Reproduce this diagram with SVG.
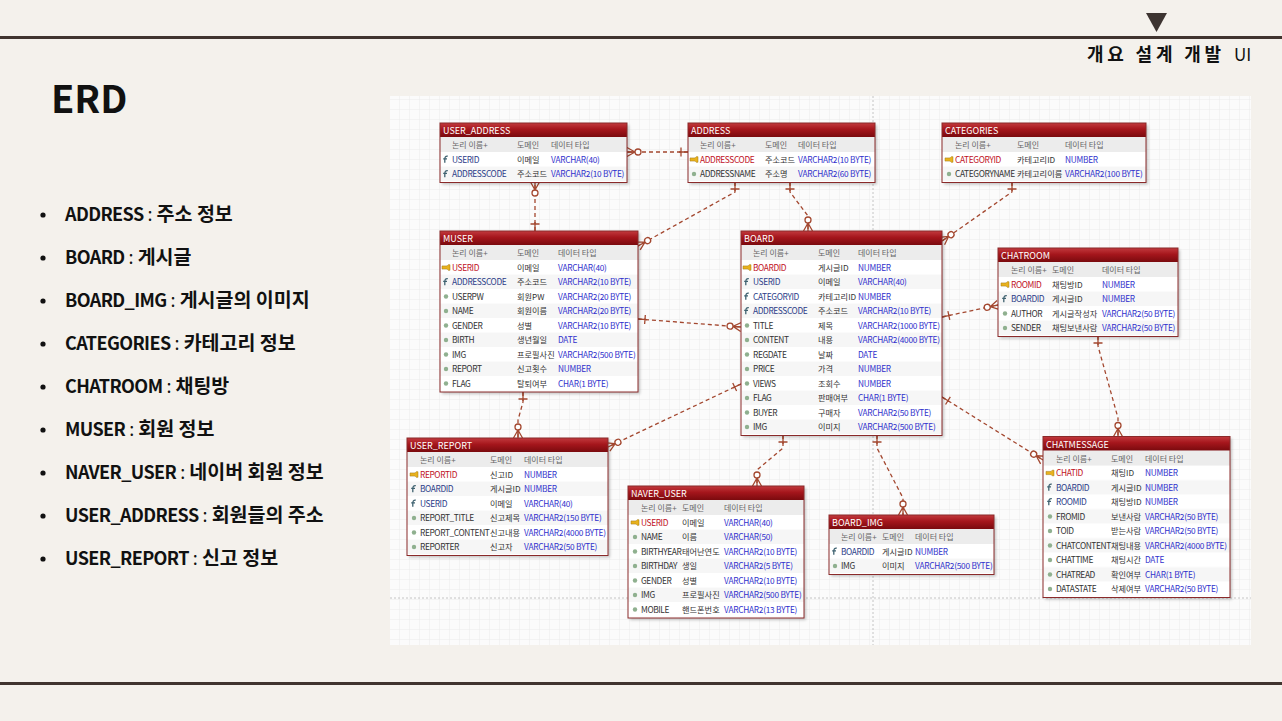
<svg xmlns="http://www.w3.org/2000/svg" xmlns:xlink="http://www.w3.org/1999/xlink" width="1282" height="721" viewBox="0 0 1282 721">
<style>
.k{font-family:"Noto Sans CJK KR","Liberation Sans",sans-serif}
.tt{font-family:"Noto Sans CJK KR","Liberation Sans",sans-serif;font-size:9px;fill:#fff}
.hd{font-family:"Noto Sans CJK KR","Liberation Sans",sans-serif;font-size:8px;fill:#666}
.r{font-family:"Noto Sans CJK KR","Liberation Sans",sans-serif;font-size:8.4px}
.nm{fill:#333;letter-spacing:-0.4px}
.pk{fill:#c0101c;letter-spacing:-0.4px}
.fk{fill:#2b3c88;letter-spacing:-0.4px}
.dm{fill:#333;font-size:8.2px}
.ty{fill:#3030cc;font-size:8.3px;letter-spacing:-0.25px}
.body{fill:#fff}
.rows{fill:url(#stripe)}
.hdr{fill:#ececec}
.ttl{fill:url(#tg)}
.frame{fill:none;stroke:#8a2a2a;stroke-width:1}
.sh{fill:#000;opacity:.22;filter:url(#blur)}
.cn{fill:none;stroke:#a3472f;stroke-width:1.3;stroke-dasharray:4 3;marker-start:url(#one);marker-end:url(#many)}
.mk{fill:none;stroke:#a3472f;stroke-width:1.3}
.li{font-family:"Noto Sans CJK KR","Liberation Sans",sans-serif;font-size:18px;fill:#111;font-weight:700}
.en{letter-spacing:-0.6px}
.co{font-weight:400}
.kr{font-size:19.5px}
</style>
<defs>
<linearGradient id="tg" x1="0" y1="0" x2="0" y2="1">
<stop offset="0" stop-color="#c23a3e"/>
<stop offset="0.45" stop-color="#a5161c"/>
<stop offset="1" stop-color="#7a0a0e"/>
</linearGradient>
<pattern id="stripe" x="0" y="29" width="10" height="29" patternUnits="userSpaceOnUse">
<rect width="10" height="14.5" fill="#ffffff"/>
<rect y="14.5" width="10" height="14.5" fill="#f6f6f6"/>
</pattern>
<pattern id="grid" x="0" y="0" width="10" height="10" patternUnits="userSpaceOnUse">
<path d="M10,0 V10 H0" fill="none" stroke="#ebebeb" stroke-width="1"/>
</pattern>
<filter id="blur" x="-10%" y="-10%" width="120%" height="120%"><feGaussianBlur stdDeviation="1.5"/></filter>
<marker id="one" markerUnits="userSpaceOnUse" markerWidth="20" markerHeight="14" viewBox="0 -7 20 14" refX="0" refY="0" orient="auto" overflow="visible">
<path class="mk" d="M0,0 H9 M7,-4.5 V4.5"/>
</marker>
<marker id="many" markerUnits="userSpaceOnUse" markerWidth="20" markerHeight="14" viewBox="-20 -7 20 14" refX="0" refY="0" orient="auto" overflow="visible">
<path class="mk" d="M-8,0 L0,-4.5 M-8,0 L0,4.5 M-8,0 H0"/>
<circle cx="-11" cy="0" r="3" fill="#fff" stroke="#a3472f" stroke-width="1.3"/>
</marker>
<g id="ipk"><path d="M-4,-1.6 h5 l1.2,-1.2 h1.8 v5.6 h-1.8 l-1.2,-1.2 h-5 z" fill="#e8b21e" stroke="#a07410" stroke-width=".5"/></g>
<g id="ifk"><path d="M1.8,-3.3 C-0.6,-3.6 -1.2,-2 -1.2,0 V3.2 M-2.8,-0.6 H1" fill="none" stroke="#3f6270" stroke-width="1.3"/></g>
<g id="iat"><circle r="2.2" fill="#8fb08f"/></g>
</defs>

<rect width="1282" height="721" fill="#f4f1ec"/>
<line x1="0" y1="37.5" x2="1282" y2="37.5" stroke="#40342f" stroke-width="3"/>
<line x1="0" y1="683.5" x2="1282" y2="683.5" stroke="#40342f" stroke-width="3"/>
<polygon points="1146,13 1167,13 1156.5,32" fill="#3d3431"/>
<text class="k" x="1087" y="61" font-size="18" font-weight="700" fill="#111" letter-spacing="3.8">개요 설계 개발</text>
<text class="k" x="1234" y="61" font-size="17" fill="#111">UI</text>

<text class="k" x="51" y="113" font-size="38" font-weight="700" fill="#111">ERD</text>

<g id="legend">
<g fill="#111"><circle cx="43" cy="215" r="2.6"/><circle cx="43" cy="258" r="2.6"/><circle cx="43" cy="301" r="2.6"/><circle cx="43" cy="344" r="2.6"/><circle cx="43" cy="387" r="2.6"/><circle cx="43" cy="430" r="2.6"/><circle cx="43" cy="473" r="2.6"/><circle cx="43" cy="516" r="2.6"/><circle cx="43" cy="559" r="2.6"/></g>
<text class="li" x="65" y="221"><tspan class="en">ADDRESS</tspan><tspan class="co"> : </tspan><tspan class="kr">주소 정보</tspan></text>
<text class="li" x="65" y="264"><tspan class="en">BOARD</tspan><tspan class="co"> : </tspan><tspan class="kr">게시글</tspan></text>
<text class="li" x="65" y="307"><tspan class="en">BOARD_IMG</tspan><tspan class="co"> : </tspan><tspan class="kr">게시글의 이미지</tspan></text>
<text class="li" x="65" y="350"><tspan class="en">CATEGORIES</tspan><tspan class="co"> : </tspan><tspan class="kr">카테고리 정보</tspan></text>
<text class="li" x="65" y="393"><tspan class="en">CHATROOM</tspan><tspan class="co"> : </tspan><tspan class="kr">채팅방</tspan></text>
<text class="li" x="65" y="436"><tspan class="en">MUSER</tspan><tspan class="co"> : </tspan><tspan class="kr">회원 정보</tspan></text>
<text class="li" x="65" y="479"><tspan class="en">NAVER_USER</tspan><tspan class="co"> : </tspan><tspan class="kr">네이버 회원 정보</tspan></text>
<text class="li" x="65" y="522"><tspan class="en">USER_ADDRESS</tspan><tspan class="co"> : </tspan><tspan class="kr">회원들의 주소</tspan></text>
<text class="li" x="65" y="565"><tspan class="en">USER_REPORT</tspan><tspan class="co"> : </tspan><tspan class="kr">신고 정보</tspan></text>
</g>

<g id="canvas">
<rect x="390" y="96" width="861" height="549" fill="#fbfbfb"/>
<rect x="390" y="96" width="861" height="549" fill="url(#grid)"/>
<line x1="873" y1="96" x2="873" y2="645" stroke="#c4c4c4" stroke-width="1" stroke-dasharray="2 2"/>
<line x1="390" y1="598" x2="1251" y2="598" stroke="#c4c4c4" stroke-width="1" stroke-dasharray="2 2"/>
</g>

<g id="connectors">
<path class="cn" d="M688,152 L627,152"/>
<path class="cn" d="M535,231 L535,182"/>
<path class="cn" d="M735,182 L735,192 L638,246"/>
<path class="cn" d="M790,182 L790,192 L808,216 L808,231"/>
<path class="cn" d="M1012,182 L1012,192 L942,241"/>
<path class="cn" d="M638,319 L741,327"/>
<path class="cn" d="M523,392 L523,402 L518,420 L518,438"/>
<path class="cn" d="M741,384 L608,447"/>
<path class="cn" d="M783,435 L783,448 L757,470 L757,486"/>
<path class="cn" d="M877,435 L877,448 L903,498 L903,515"/>
<path class="cn" d="M942,397 L1043,460"/>
<path class="cn" d="M942,317 L998,305"/>
<path class="cn" d="M1098,336 L1098,346 L1118,418 L1118,436.5"/>
</g>

<g id="user_address" transform="translate(440,123)">
<rect class="sh" x="2" y="2" width="187" height="59.5"/>
<rect class="body" width="187" height="59.5"/>
<rect class="rows" y="29" width="187" height="29"/>
<rect class="hdr" y="14" width="187" height="15"/>
<rect class="ttl" width="187" height="14"/>
<rect class="frame" width="187" height="59.5"/>
<text class="tt" x="3" y="11">USER_ADDRESS</text>
<text class="hd" y="25"><tspan x="12">논리 이름+</tspan><tspan x="77">도메인</tspan><tspan x="111">데이터 타입</tspan></text>
<use href="#ifk" x="6" y="36.5"/><text class="r" y="39.8"><tspan class="fk" x="12">USERID</tspan><tspan class="dm" x="77">이메일</tspan><tspan class="ty" x="111">VARCHAR(40)</tspan></text>
<use href="#ifk" x="6" y="51"/><text class="r" y="54.3"><tspan class="fk" x="12">ADDRESSCODE</tspan><tspan class="dm" x="77">주소코드</tspan><tspan class="ty" x="111">VARCHAR2(10 BYTE)</tspan></text>
</g>

<g id="address" transform="translate(688,123)">
<rect class="sh" x="2" y="2" width="187" height="59.5"/>
<rect class="body" width="187" height="59.5"/>
<rect class="rows" y="29" width="187" height="29"/>
<rect class="hdr" y="14" width="187" height="15"/>
<rect class="ttl" width="187" height="14"/>
<rect class="frame" width="187" height="59.5"/>
<text class="tt" x="3" y="11">ADDRESS</text>
<text class="hd" y="25"><tspan x="12">논리 이름+</tspan><tspan x="77">도메인</tspan><tspan x="110">데이터 타입</tspan></text>
<use href="#ipk" x="6" y="36.5"/><text class="r" y="39.8"><tspan class="pk" x="12">ADDRESSCODE</tspan><tspan class="dm" x="77">주소코드</tspan><tspan class="ty" x="110">VARCHAR2(10 BYTE)</tspan></text>
<use href="#iat" x="6" y="51"/><text class="r" y="54.3"><tspan class="nm" x="12">ADDRESSNAME</tspan><tspan class="dm" x="77">주소명</tspan><tspan class="ty" x="110">VARCHAR2(60 BYTE)</tspan></text>
</g>

<g id="categories" transform="translate(942,123)">
<rect class="sh" x="2" y="2" width="204" height="59.5"/>
<rect class="body" width="204" height="59.5"/>
<rect class="rows" y="29" width="204" height="29"/>
<rect class="hdr" y="14" width="204" height="15"/>
<rect class="ttl" width="204" height="14"/>
<rect class="frame" width="204" height="59.5"/>
<text class="tt" x="3" y="11">CATEGORIES</text>
<text class="hd" y="25"><tspan x="13">논리 이름+</tspan><tspan x="75">도메인</tspan><tspan x="123">데이터 타입</tspan></text>
<use href="#ipk" x="7" y="36.5"/><text class="r" y="39.8"><tspan class="pk" x="13">CATEGORYID</tspan><tspan class="dm" x="75">카테고리ID</tspan><tspan class="ty" x="123">NUMBER</tspan></text>
<use href="#iat" x="7" y="51"/><text class="r" y="54.3"><tspan class="nm" x="13">CATEGORYNAME</tspan><tspan class="dm" x="75">카테고리이름</tspan><tspan class="ty" x="123">VARCHAR2(100 BYTE)</tspan></text>
</g>

<g id="muser" transform="translate(440,231)">
<rect class="sh" x="2" y="2" width="198" height="161"/>
<rect class="body" width="198" height="161"/>
<rect class="rows" y="29" width="198" height="130.5"/>
<rect class="hdr" y="14" width="198" height="15"/>
<rect class="ttl" width="198" height="14"/>
<rect class="frame" width="198" height="161"/>
<text class="tt" x="3" y="11">MUSER</text>
<text class="hd" y="25"><tspan x="12">논리 이름+</tspan><tspan x="77">도메인</tspan><tspan x="118">데이터 타입</tspan></text>
<use href="#ipk" x="6" y="36.5"/><text class="r" y="39.8"><tspan class="pk" x="12">USERID</tspan><tspan class="dm" x="77">이메일</tspan><tspan class="ty" x="118">VARCHAR(40)</tspan></text>
<use href="#ifk" x="6" y="51"/><text class="r" y="54.3"><tspan class="fk" x="12">ADDRESSCODE</tspan><tspan class="dm" x="77">주소코드</tspan><tspan class="ty" x="118">VARCHAR2(10 BYTE)</tspan></text>
<use href="#iat" x="6" y="65.5"/><text class="r" y="68.8"><tspan class="nm" x="12">USERPW</tspan><tspan class="dm" x="77">회원PW</tspan><tspan class="ty" x="118">VARCHAR2(20 BYTE)</tspan></text>
<use href="#iat" x="6" y="80"/><text class="r" y="83.3"><tspan class="nm" x="12">NAME</tspan><tspan class="dm" x="77">회원이름</tspan><tspan class="ty" x="118">VARCHAR2(20 BYTE)</tspan></text>
<use href="#iat" x="6" y="94.5"/><text class="r" y="97.8"><tspan class="nm" x="12">GENDER</tspan><tspan class="dm" x="77">성별</tspan><tspan class="ty" x="118">VARCHAR2(10 BYTE)</tspan></text>
<use href="#iat" x="6" y="109"/><text class="r" y="112.3"><tspan class="nm" x="12">BIRTH</tspan><tspan class="dm" x="77">생년월일</tspan><tspan class="ty" x="118">DATE</tspan></text>
<use href="#iat" x="6" y="123.5"/><text class="r" y="126.8"><tspan class="nm" x="12">IMG</tspan><tspan class="dm" x="77">프로필사진</tspan><tspan class="ty" x="118">VARCHAR2(500 BYTE)</tspan></text>
<use href="#iat" x="6" y="138"/><text class="r" y="141.3"><tspan class="nm" x="12">REPORT</tspan><tspan class="dm" x="77">신고횟수</tspan><tspan class="ty" x="118">NUMBER</tspan></text>
<use href="#iat" x="6" y="152.5"/><text class="r" y="155.8"><tspan class="nm" x="12">FLAG</tspan><tspan class="dm" x="77">탈퇴여부</tspan><tspan class="ty" x="118">CHAR(1 BYTE)</tspan></text>
</g>

<g id="board" transform="translate(741,231)">
<rect class="sh" x="2" y="2" width="201" height="204.5"/>
<rect class="body" width="201" height="204.5"/>
<rect class="rows" y="29" width="201" height="174"/>
<rect class="hdr" y="14" width="201" height="15"/>
<rect class="ttl" width="201" height="14"/>
<rect class="frame" width="201" height="204.5"/>
<text class="tt" x="3" y="11">BOARD</text>
<text class="hd" y="25"><tspan x="12">논리 이름+</tspan><tspan x="77">도메인</tspan><tspan x="117">데이터 타입</tspan></text>
<use href="#ipk" x="6" y="36.5"/><text class="r" y="39.8"><tspan class="pk" x="12">BOARDID</tspan><tspan class="dm" x="77">게시글ID</tspan><tspan class="ty" x="117">NUMBER</tspan></text>
<use href="#ifk" x="6" y="51"/><text class="r" y="54.3"><tspan class="fk" x="12">USERID</tspan><tspan class="dm" x="77">이메일</tspan><tspan class="ty" x="117">VARCHAR(40)</tspan></text>
<use href="#ifk" x="6" y="65.5"/><text class="r" y="68.8"><tspan class="fk" x="12">CATEGORYID</tspan><tspan class="dm" x="77">카테고리ID</tspan><tspan class="ty" x="117">NUMBER</tspan></text>
<use href="#ifk" x="6" y="80"/><text class="r" y="83.3"><tspan class="fk" x="12">ADDRESSCODE</tspan><tspan class="dm" x="77">주소코드</tspan><tspan class="ty" x="117">VARCHAR2(10 BYTE)</tspan></text>
<use href="#iat" x="6" y="94.5"/><text class="r" y="97.8"><tspan class="nm" x="12">TITLE</tspan><tspan class="dm" x="77">제목</tspan><tspan class="ty" x="117">VARCHAR2(1000 BYTE)</tspan></text>
<use href="#iat" x="6" y="109"/><text class="r" y="112.3"><tspan class="nm" x="12">CONTENT</tspan><tspan class="dm" x="77">내용</tspan><tspan class="ty" x="117">VARCHAR2(4000 BYTE)</tspan></text>
<use href="#iat" x="6" y="123.5"/><text class="r" y="126.8"><tspan class="nm" x="12">REGDATE</tspan><tspan class="dm" x="77">날짜</tspan><tspan class="ty" x="117">DATE</tspan></text>
<use href="#iat" x="6" y="138"/><text class="r" y="141.3"><tspan class="nm" x="12">PRICE</tspan><tspan class="dm" x="77">가격</tspan><tspan class="ty" x="117">NUMBER</tspan></text>
<use href="#iat" x="6" y="152.5"/><text class="r" y="155.8"><tspan class="nm" x="12">VIEWS</tspan><tspan class="dm" x="77">조회수</tspan><tspan class="ty" x="117">NUMBER</tspan></text>
<use href="#iat" x="6" y="167"/><text class="r" y="170.3"><tspan class="nm" x="12">FLAG</tspan><tspan class="dm" x="77">판매여부</tspan><tspan class="ty" x="117">CHAR(1 BYTE)</tspan></text>
<use href="#iat" x="6" y="181.5"/><text class="r" y="184.8"><tspan class="nm" x="12">BUYER</tspan><tspan class="dm" x="77">구매자</tspan><tspan class="ty" x="117">VARCHAR2(50 BYTE)</tspan></text>
<use href="#iat" x="6" y="196"/><text class="r" y="199.3"><tspan class="nm" x="12">IMG</tspan><tspan class="dm" x="77">이미지</tspan><tspan class="ty" x="117">VARCHAR2(500 BYTE)</tspan></text>
</g>

<g id="chatroom" transform="translate(998,248)">
<rect class="sh" x="2" y="2" width="180" height="88.5"/>
<rect class="body" width="180" height="88.5"/>
<rect class="rows" y="29" width="180" height="58"/>
<rect class="hdr" y="14" width="180" height="15"/>
<rect class="ttl" width="180" height="14"/>
<rect class="frame" width="180" height="88.5"/>
<text class="tt" x="3" y="11">CHATROOM</text>
<text class="hd" y="25"><tspan x="13">논리 이름+</tspan><tspan x="54">도메인</tspan><tspan x="104">데이터 타입</tspan></text>
<use href="#ipk" x="7" y="36.5"/><text class="r" y="39.8"><tspan class="pk" x="13">ROOMID</tspan><tspan class="dm" x="54">채팅방ID</tspan><tspan class="ty" x="104">NUMBER</tspan></text>
<use href="#ifk" x="7" y="51"/><text class="r" y="54.3"><tspan class="fk" x="13">BOARDID</tspan><tspan class="dm" x="54">게시글ID</tspan><tspan class="ty" x="104">NUMBER</tspan></text>
<use href="#iat" x="7" y="65.5"/><text class="r" y="68.8"><tspan class="nm" x="13">AUTHOR</tspan><tspan class="dm" x="54">게시글작성자</tspan><tspan class="ty" x="104">VARCHAR2(50 BYTE)</tspan></text>
<use href="#iat" x="7" y="80"/><text class="r" y="83.3"><tspan class="nm" x="13">SENDER</tspan><tspan class="dm" x="54">채팅보낸사람</tspan><tspan class="ty" x="104">VARCHAR2(50 BYTE)</tspan></text>
</g>

<g id="user_report" transform="translate(407,438)">
<rect class="sh" x="2" y="2" width="201" height="117.5"/>
<rect class="body" width="201" height="117.5"/>
<rect class="rows" y="29" width="201" height="87"/>
<rect class="hdr" y="14" width="201" height="15"/>
<rect class="ttl" width="201" height="14"/>
<rect class="frame" width="201" height="117.5"/>
<text class="tt" x="3" y="11">USER_REPORT</text>
<text class="hd" y="25"><tspan x="13">논리 이름+</tspan><tspan x="83">도메인</tspan><tspan x="117">데이터 타입</tspan></text>
<use href="#ipk" x="7" y="36.5"/><text class="r" y="39.8"><tspan class="pk" x="13">REPORTID</tspan><tspan class="dm" x="83">신고ID</tspan><tspan class="ty" x="117">NUMBER</tspan></text>
<use href="#ifk" x="7" y="51"/><text class="r" y="54.3"><tspan class="fk" x="13">BOARDID</tspan><tspan class="dm" x="83">게시글ID</tspan><tspan class="ty" x="117">NUMBER</tspan></text>
<use href="#ifk" x="7" y="65.5"/><text class="r" y="68.8"><tspan class="fk" x="13">USERID</tspan><tspan class="dm" x="83">이메일</tspan><tspan class="ty" x="117">VARCHAR(40)</tspan></text>
<use href="#iat" x="7" y="80"/><text class="r" y="83.3"><tspan class="nm" x="13">REPORT_TITLE</tspan><tspan class="dm" x="83">신고제목</tspan><tspan class="ty" x="117">VARCHAR2(150 BYTE)</tspan></text>
<use href="#iat" x="7" y="94.5"/><text class="r" y="97.8"><tspan class="nm" x="13">REPORT_CONTENT</tspan><tspan class="dm" x="83">신고내용</tspan><tspan class="ty" x="117">VARCHAR2(4000 BYTE)</tspan></text>
<use href="#iat" x="7" y="109"/><text class="r" y="112.3"><tspan class="nm" x="13">REPORTER</tspan><tspan class="dm" x="83">신고자</tspan><tspan class="ty" x="117">VARCHAR2(50 BYTE)</tspan></text>
</g>

<g id="naver_user" transform="translate(628,486)">
<rect class="sh" x="2" y="2" width="176" height="132"/>
<rect class="body" width="176" height="132"/>
<rect class="rows" y="29" width="176" height="101.5"/>
<rect class="hdr" y="14" width="176" height="15"/>
<rect class="ttl" width="176" height="14"/>
<rect class="frame" width="176" height="132"/>
<text class="tt" x="3" y="11">NAVER_USER</text>
<text class="hd" y="25"><tspan x="13">논리 이름+</tspan><tspan x="54">도메인</tspan><tspan x="96">데이터 타입</tspan></text>
<use href="#ipk" x="7" y="36.5"/><text class="r" y="39.8"><tspan class="pk" x="13">USERID</tspan><tspan class="dm" x="54">이메일</tspan><tspan class="ty" x="96">VARCHAR(40)</tspan></text>
<use href="#iat" x="7" y="51"/><text class="r" y="54.3"><tspan class="nm" x="13">NAME</tspan><tspan class="dm" x="54">이름</tspan><tspan class="ty" x="96">VARCHAR(50)</tspan></text>
<use href="#iat" x="7" y="65.5"/><text class="r" y="68.8"><tspan class="nm" x="13">BIRTHYEAR</tspan><tspan class="dm" x="54">태어난연도</tspan><tspan class="ty" x="96">VARCHAR2(10 BYTE)</tspan></text>
<use href="#iat" x="7" y="80"/><text class="r" y="83.3"><tspan class="nm" x="13">BIRTHDAY</tspan><tspan class="dm" x="54">생일</tspan><tspan class="ty" x="96">VARCHAR2(5 BYTE)</tspan></text>
<use href="#iat" x="7" y="94.5"/><text class="r" y="97.8"><tspan class="nm" x="13">GENDER</tspan><tspan class="dm" x="54">성별</tspan><tspan class="ty" x="96">VARCHAR2(10 BYTE)</tspan></text>
<use href="#iat" x="7" y="109"/><text class="r" y="112.3"><tspan class="nm" x="13">IMG</tspan><tspan class="dm" x="54">프로필사진</tspan><tspan class="ty" x="96">VARCHAR2(500 BYTE)</tspan></text>
<use href="#iat" x="7" y="123.5"/><text class="r" y="126.8"><tspan class="nm" x="13">MOBILE</tspan><tspan class="dm" x="54">핸드폰번호</tspan><tspan class="ty" x="96">VARCHAR2(13 BYTE)</tspan></text>
</g>

<g id="board_img" transform="translate(829,515)">
<rect class="sh" x="2" y="2" width="165" height="59.5"/>
<rect class="body" width="165" height="59.5"/>
<rect class="rows" y="29" width="165" height="29"/>
<rect class="hdr" y="14" width="165" height="15"/>
<rect class="ttl" width="165" height="14"/>
<rect class="frame" width="165" height="59.5"/>
<text class="tt" x="3" y="11">BOARD_IMG</text>
<text class="hd" y="25"><tspan x="12">논리 이름+</tspan><tspan x="53">도메인</tspan><tspan x="86">데이터 타입</tspan></text>
<use href="#ifk" x="6" y="36.5"/><text class="r" y="39.8"><tspan class="fk" x="12">BOARDID</tspan><tspan class="dm" x="53">게시글ID</tspan><tspan class="ty" x="86">NUMBER</tspan></text>
<use href="#iat" x="6" y="51"/><text class="r" y="54.3"><tspan class="nm" x="12">IMG</tspan><tspan class="dm" x="53">이미지</tspan><tspan class="ty" x="86">VARCHAR2(500 BYTE)</tspan></text>
</g>

<g id="chatmessage" transform="translate(1043,436.5)">
<rect class="sh" x="2" y="2" width="187" height="161"/>
<rect class="body" width="187" height="161"/>
<rect class="rows" y="29" width="187" height="130.5"/>
<rect class="hdr" y="14" width="187" height="15"/>
<rect class="ttl" width="187" height="14"/>
<rect class="frame" width="187" height="161"/>
<text class="tt" x="3" y="11">CHATMESSAGE</text>
<text class="hd" y="25"><tspan x="13">논리 이름+</tspan><tspan x="68">도메인</tspan><tspan x="102">데이터 타입</tspan></text>
<use href="#ipk" x="7" y="36.5"/><text class="r" y="39.8"><tspan class="pk" x="13">CHATID</tspan><tspan class="dm" x="68">채팅ID</tspan><tspan class="ty" x="102">NUMBER</tspan></text>
<use href="#ifk" x="7" y="51"/><text class="r" y="54.3"><tspan class="fk" x="13">BOARDID</tspan><tspan class="dm" x="68">게시글ID</tspan><tspan class="ty" x="102">NUMBER</tspan></text>
<use href="#ifk" x="7" y="65.5"/><text class="r" y="68.8"><tspan class="fk" x="13">ROOMID</tspan><tspan class="dm" x="68">채팅방ID</tspan><tspan class="ty" x="102">NUMBER</tspan></text>
<use href="#iat" x="7" y="80"/><text class="r" y="83.3"><tspan class="nm" x="13">FROMID</tspan><tspan class="dm" x="68">보낸사람</tspan><tspan class="ty" x="102">VARCHAR2(50 BYTE)</tspan></text>
<use href="#iat" x="7" y="94.5"/><text class="r" y="97.8"><tspan class="nm" x="13">TOID</tspan><tspan class="dm" x="68">받는사람</tspan><tspan class="ty" x="102">VARCHAR2(50 BYTE)</tspan></text>
<use href="#iat" x="7" y="109"/><text class="r" y="112.3"><tspan class="nm" x="13">CHATCONTENT</tspan><tspan class="dm" x="68">채팅내용</tspan><tspan class="ty" x="102">VARCHAR2(4000 BYTE)</tspan></text>
<use href="#iat" x="7" y="123.5"/><text class="r" y="126.8"><tspan class="nm" x="13">CHATTIME</tspan><tspan class="dm" x="68">채팅시간</tspan><tspan class="ty" x="102">DATE</tspan></text>
<use href="#iat" x="7" y="138"/><text class="r" y="141.3"><tspan class="nm" x="13">CHATREAD</tspan><tspan class="dm" x="68">확인여부</tspan><tspan class="ty" x="102">CHAR(1 BYTE)</tspan></text>
<use href="#iat" x="7" y="152.5"/><text class="r" y="155.8"><tspan class="nm" x="13">DATASTATE</tspan><tspan class="dm" x="68">삭제여부</tspan><tspan class="ty" x="102">VARCHAR2(50 BYTE)</tspan></text>
</g>
</svg>
